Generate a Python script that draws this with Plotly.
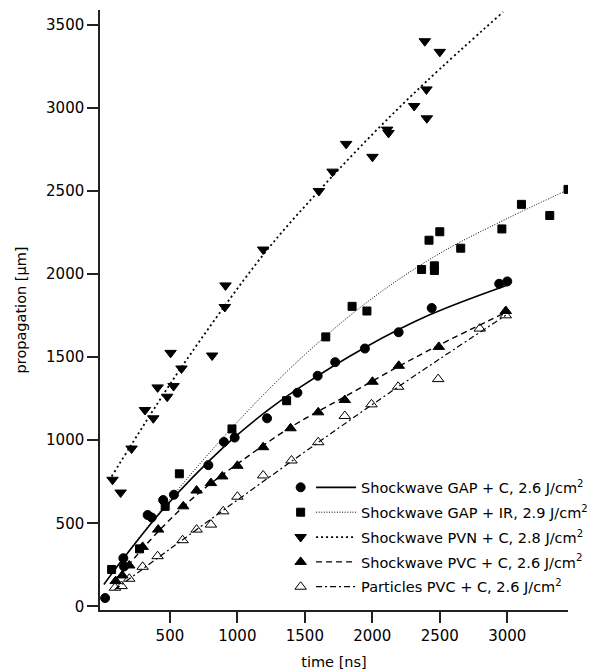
import plotly.graph_objects as go

gapc_t = [20, 155, 160, 335, 365, 450, 530, 785, 900, 980, 1220, 1445, 1595, 1725, 1945, 2195, 2440, 2940, 3000]
gapc_p = [50, 290, 240, 550, 535, 640, 672, 850, 990, 1016, 1132, 1286, 1388, 1470, 1552, 1650, 1796, 1942, 1956]

gapir_t = [68, 275, 465, 570, 960, 1365, 1655, 1850, 1960, 2365, 2420, 2460, 2460, 2500, 2655, 2960, 3105, 3315, 3450]
gapir_p = [222, 346, 602, 798, 1068, 1238, 1622, 1806, 1778, 2028, 2204, 2050, 2022, 2255, 2156, 2272, 2420, 2353, 2510]

pvn_t = [75, 135, 216, 315, 377, 409, 480, 505, 527, 586, 813, 907, 912, 1191, 1604, 1705, 1806, 2001,
         2110, 2120, 2310, 2389, 2401, 2404, 2500]
pvn_p = [762, 685, 950, 1182, 1132, 1318, 1262, 1526, 1326, 1432, 1510, 1802, 1932, 2148, 2500, 2617, 2784, 2706,
         2870, 2850, 3012, 3402, 3112, 2938, 3338]

pvc_t = [98, 147, 199, 298, 413, 599, 698, 804, 888, 1000, 1191, 1394, 1599, 1796, 2001, 2196, 2493, 2989]
pvc_p = [152, 186, 246, 358, 462, 602, 697, 742, 782, 846, 958, 1072, 1168, 1242, 1352, 1448, 1562, 1778]

part_t = [93, 142, 199, 298, 409, 594, 698, 804, 895, 1000, 1191, 1401, 1599, 1796, 1994, 2191, 2488, 2796, 2989]
part_p = [112, 122, 166, 238, 302, 398, 462, 492, 572, 660, 788, 878, 988, 1146, 1216, 1322, 1368, 1672, 1752]

# ---- fitted curves ----
gapc_fit_t = [11, 162, 450, 900, 1221, 1463, 1949, 2425, 2994]
gapc_fit_p = [132, 295, 585, 960, 1178, 1318, 1560, 1755, 1932]

gapir_fit_t = [68, 500, 1000, 1500, 2000, 2500, 3000, 3451]
gapir_fit_p = [200, 645, 1110, 1515, 1855, 2125, 2335, 2508]

pvn_fit_t = [68, 216, 586, 1200, 1603, 2005, 2401, 2969]
pvn_fit_p = [782, 975, 1440, 2125, 2500, 2845, 3160, 3578]

pvc_fit_t = [90, 413, 700, 1001, 1394, 1796, 2196, 2493, 2994]
pvc_fit_p = [150, 450, 672, 858, 1078, 1262, 1445, 1572, 1772]

part_fit_t = [90, 500, 1000, 1500, 2000, 2500, 2989]
part_fit_p = [100, 345, 640, 930, 1215, 1490, 1752]

names = [
    "Shockwave GAP + C, 2.6 J/cm<sup>2</sup>",
    "Shockwave GAP + IR, 2.9 J/cm<sup>2</sup>",
    "Shockwave PVN + C, 2.8 J/cm<sup>2</sup>",
    "Shockwave PVC + C, 2.6 J/cm<sup>2</sup>",
    "Particles PVC + C, 2.6 J/cm<sup>2</sup>",
]

series = [(gapc_t, gapc_p), (gapir_t, gapir_p), (pvn_t, pvn_p), (pvc_t, pvc_p), (part_t, part_p)]
fits = [(gapc_fit_t, gapc_fit_p), (gapir_fit_t, gapir_fit_p), (pvn_fit_t, pvn_fit_p),
        (pvc_fit_t, pvc_fit_p), (part_fit_t, part_fit_p)]
symbols = ["circle", "square", "triangle-down", "triangle-up", "triangle-up-open"]
msizes = [9, 8, 10, 10, 10]
dashes = ["solid", "1px,1.6px", "2px,3px", "6px,4px", "6px,3px,2px,3px"]
lwidths = [1.6, 1.0, 1.8, 1.4, 1.2]

FONT = "DejaVu Sans"
fig = go.Figure()

for i, nm in enumerate(names):
    t, p = series[i]
    ft, fp = fits[i]
    fig.add_trace(go.Scatter(
        x=t, y=p, mode="markers", name=" ",
        marker=dict(symbol=symbols[i], size=msizes[i], color="black",
                    line=dict(color="black", width=1)),
        legend="legend", legendgroup=f"m{i}", showlegend=True,
    ))
    fig.add_trace(go.Scatter(
        x=ft, y=fp, mode="lines", name=nm,
        line=dict(color="black", width=lwidths[i], dash=dashes[i], shape="spline", smoothing=1.0),
        legend="legend2", legendgroup=f"l{i}", showlegend=True,
    ))

legend_common = dict(
    font=dict(family=FONT, size=14.5, color="black"),
    bgcolor="rgba(0,0,0,0)", borderwidth=0,
    traceorder="grouped", tracegroupgap=3,
    yanchor="top", y=0.231,
)

fig.update_layout(
    width=592, height=670,
    margin=dict(l=100, r=24, t=10, b=60, autoexpand=False),
    paper_bgcolor="white", plot_bgcolor="white",
    font=dict(family=FONT, size=15, color="black"),
    legend=dict(**legend_common, x=0.386, xanchor="left", itemwidth=30),
    legend2=dict(**legend_common, x=0.451, xanchor="left", itemwidth=40),
    xaxis=dict(
        range=[-18, 3450], showgrid=False, zeroline=False,
        showline=True, linecolor="#222", linewidth=1.5,
        ticks="outside", ticklen=11, tickwidth=1.5, tickcolor="#222",
        tickvals=[500, 1000, 1500, 2000, 2500, 3000],
        tickfont=dict(family=FONT, size=15),
        title=dict(text="time [ns]", font=dict(family=FONT, size=14.5), standoff=14),
    ),
    yaxis=dict(
        range=[-22, 3590], showgrid=False, zeroline=False,
        showline=True, linecolor="#222", linewidth=1.5,
        ticks="outside", ticklen=11, tickwidth=1.5, tickcolor="#222",
        tickvals=[0, 500, 1000, 1500, 2000, 2500, 3000, 3500],
        tickfont=dict(family=FONT, size=15),
        title=dict(text="propagation [µm]", font=dict(family=FONT, size=14.5), standoff=16),
    ),
)

fig.write_html("out.html")
